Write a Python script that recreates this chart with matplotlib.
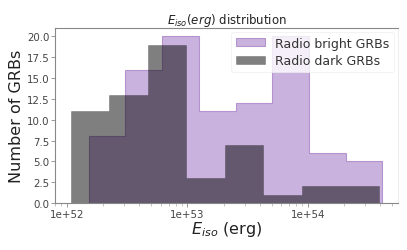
import numpy as np
import matplotlib
matplotlib.use('Agg')
import matplotlib.pyplot as plt

# bin edges (log10 of E_iso in erg) and counts
bright_edges = [52.18, 52.485, 52.79, 53.095, 53.40, 53.705, 54.01, 54.315, 54.62]
bright_counts = [8, 16, 20, 11, 12, 20, 6, 5]
dark_edges = [52.03, 52.35, 52.67, 52.99, 53.31, 53.63, 53.95, 54.27, 54.59]
dark_counts = [11, 13, 19, 3, 7, 1, 2, 2]

b_edges = 10 ** np.array(bright_edges)
d_edges = 10 ** np.array(dark_edges)

fig = plt.figure(figsize=(4.07, 2.51), dpi=100)
ax = fig.add_axes([0.135, 0.187, 0.843, 0.697])

ax.hist(b_edges[:-1], bins=b_edges, weights=bright_counts, histtype='stepfilled',
        facecolor=(0.58, 0.40, 0.74, 0.5), edgecolor=(0.58, 0.40, 0.74, 0.6),
        linewidth=0.8, label='Radio bright GRBs')
ax.hist(d_edges[:-1], bins=d_edges, weights=dark_counts, histtype='stepfilled',
        facecolor=(0, 0, 0, 0.5), edgecolor=(0, 0, 0, 0.3),
        linewidth=0.5, label='Radio dark GRBs')

ax.set_xscale('log')
ax.set_ylim(0, 21)
ax.set_yticks([0, 2.5, 5, 7.5, 10, 12.5, 15, 17.5, 20])
ax.set_xticks([1e52, 1e53, 1e54])
ax.set_xticklabels(['1e+52', '1e+53', '1e+54'])

for s in ['left', 'bottom', 'top']:
    ax.spines[s].set_color('#888888')
    ax.spines[s].set_linewidth(0.8)
ax.spines['right'].set_color('#eeeeee')
ax.tick_params(axis='both', which='major', labelsize=7.4, colors='#888888',
               labelcolor='#444444', length=3, width=0.6, pad=1)
ax.tick_params(axis='x', which='minor', length=2, width=0.5, colors='#aaaaaa')

ax.set_title('$E_{iso}(erg)$ distribution', fontsize=8.5, color='#222222', pad=3)
ax.set_xlabel('$E_{iso}$ (erg)', fontsize=11.5, color='#222222', labelpad=0)
ax.set_ylabel('Number of GRBs', fontsize=11.5, color='#222222', labelpad=2)

leg = ax.legend(loc='upper right', fontsize=9, frameon=True, borderaxespad=0.3,
                handlelength=2.3, handleheight=0.6, labelspacing=0.35)
leg.get_frame().set_edgecolor('#eeeeee')
leg.get_frame().set_linewidth(0.6)
for t in leg.get_texts():
    t.set_color('#333333')

fig.savefig('out.png', dpi=100)
